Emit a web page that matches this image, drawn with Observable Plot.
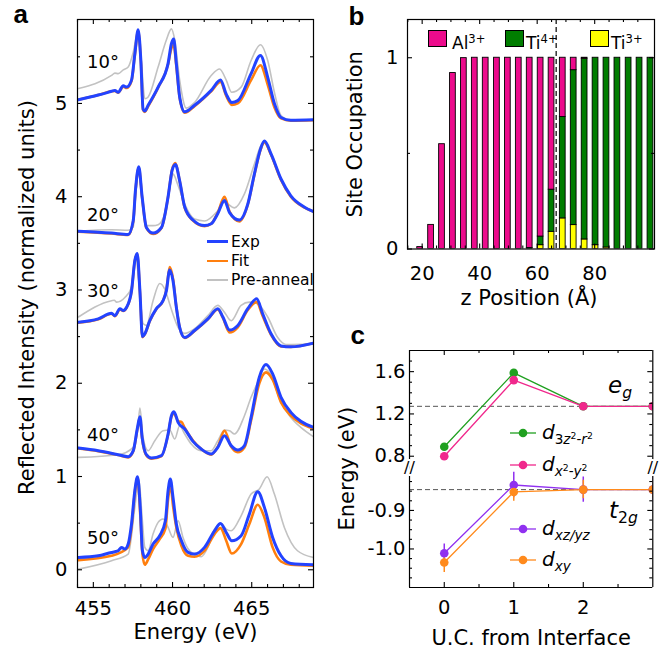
<!DOCTYPE html>
<html>
<head>
<meta charset="utf-8">
<script src="https://cdn.jsdelivr.net/npm/d3@7"></script>
<script src="https://cdn.jsdelivr.net/npm/@observablehq/plot@0.6"></script>
<style>
  body { margin: 0; background: #fff; }
  #fig { position: relative; width: 670px; height: 651px; overflow: hidden; font-family: "DejaVu Sans", sans-serif; color: #000; }
  #fig > svg { position: absolute; overflow: visible; }
  .lg { position: absolute; white-space: nowrap; }
  .lg sub { font-size: 0.68em; vertical-align: -0.35em; }
  .lg sup { font-size: 0.68em; vertical-align: 0.55em; }
</style>
</head>
<body>
<div id="fig"></div>
<script>
// ---------- Panel a: reflectivity spectra, [energy (eV), intensity] ----------
const angles = ["10°", "20°", "30°", "40°", "50°"];
const angleLabelY = [5.44, 3.80, 2.99, 1.44, 0.34];

const exp10 = [[454.06,5.04],[455.31,5.09],[456.15,5.13],[456.36,5.14],[456.57,5.12],[456.89,5.19],[457.10,5.175],[457.41,5.25],[457.62,5.53],[457.83,5.79],[458.00,5.46],[458.14,4.94],[458.25,4.92],[458.46,4.98],[459.09,5.175],[459.72,5.43],[459.93,5.64],[460.07,5.69],[460.24,5.43],[460.45,5.07],[460.77,4.91],[461.39,4.98],[462.44,5.14],[463.03,5.25],[463.39,5.10],[463.74,5.01],[464.12,5.03],[464.96,5.32],[465.55,5.515],[466.01,5.28],[466.43,5.00],[466.85,4.85],[467.47,4.82],[468.90,4.825]];
const fit10 = [[454.06,5.04],[455.31,5.09],[456.15,5.13],[456.36,5.135],[456.57,5.115],[456.89,5.18],[457.10,5.165],[457.41,5.24],[457.62,5.52],[457.83,5.78],[458.00,5.45],[458.14,4.93],[458.25,4.91],[458.46,4.97],[459.09,5.17],[459.72,5.42],[459.93,5.59],[460.07,5.63],[460.24,5.40],[460.45,5.06],[460.77,4.90],[461.39,4.97],[462.44,5.13],[463.03,5.23],[463.39,5.08],[463.74,4.985],[464.12,5.00],[464.96,5.25],[465.55,5.41],[466.01,5.20],[466.43,4.96],[466.85,4.84],[467.47,4.815],[468.90,4.82]];
const pre10 = [[454.06,5.16],[456.15,5.30],[456.36,5.325],[456.57,5.32],[456.89,5.36],[457.20,5.39],[457.52,5.55],[457.79,5.75],[458.04,5.43],[458.25,5.05],[458.46,5.07],[459.09,5.39],[459.61,5.68],[459.93,5.80],[460.14,5.68],[460.45,5.25],[460.87,4.95],[461.39,5.01],[462.44,5.30],[462.97,5.37],[463.39,5.25],[463.74,5.12],[464.33,5.175],[464.96,5.46],[465.55,5.63],[466.01,5.46],[466.43,5.12],[466.85,4.87],[467.47,4.82],[468.90,4.82]];

const exp20 = [[454.06,3.63],[456.15,3.61],[457.20,3.595],[457.52,3.745],[457.66,4.07],[457.87,4.32],[458.08,4.00],[458.35,3.67],[458.77,3.61],[459.30,3.67],[459.72,4.00],[459.97,4.28],[460.18,4.345],[460.45,4.17],[460.77,3.89],[461.29,3.75],[462.02,3.69],[462.44,3.71],[462.86,3.82],[463.28,3.96],[463.60,3.83],[464.22,3.75],[464.75,3.92],[465.17,4.245],[465.55,4.51],[465.80,4.596],[466.22,4.46],[466.85,4.19],[467.47,4.01],[468.31,3.89],[468.90,3.84]];
const fit20 = [[454.06,3.625],[456.15,3.605],[457.20,3.59],[457.52,3.74],[457.66,4.06],[457.87,4.31],[458.08,3.99],[458.35,3.665],[458.77,3.60],[459.30,3.665],[459.72,4.00],[459.97,4.29],[460.18,4.36],[460.45,4.17],[460.77,3.88],[461.29,3.745],[462.02,3.685],[462.44,3.71],[462.86,3.83],[463.28,4.00],[463.60,3.84],[464.22,3.735],[464.75,3.915],[465.17,4.235],[465.55,4.50],[465.80,4.585],[466.22,4.45],[466.85,4.18],[467.47,4.00],[468.31,3.885],[468.90,3.84]];
const pre20 = [[454.06,3.63],[456.15,3.645],[457.20,3.64],[457.52,3.675],[457.66,4.00],[457.87,4.25],[458.08,3.98],[458.35,3.69],[458.77,3.69],[459.09,3.70],[459.51,3.82],[459.93,4.18],[460.03,4.245],[460.35,4.12],[460.77,3.92],[461.39,3.76],[462.02,3.74],[462.86,3.85],[463.28,3.94],[463.91,3.88],[464.54,4.03],[465.17,4.35],[465.59,4.55],[465.80,4.575],[466.22,4.44],[466.85,4.19],[467.47,4.01],[468.31,3.89],[468.90,3.84]];

const exp30 = [[454.06,2.655],[455.31,2.69],[456.15,2.75],[456.36,2.725],[456.68,2.80],[456.89,2.78],[457.10,2.815],[457.41,2.99],[457.62,3.315],[457.77,3.39],[457.94,2.99],[458.10,2.50],[458.25,2.53],[458.56,2.67],[458.98,2.80],[459.40,2.885],[459.61,2.99],[459.82,3.215],[460.03,3.10],[460.24,2.815],[460.45,2.60],[460.77,2.49],[461.39,2.565],[462.23,2.69],[462.86,2.80],[463.18,2.71],[463.60,2.57],[464.12,2.62],[464.75,2.80],[465.31,2.905],[465.69,2.745],[466.22,2.53],[466.85,2.40],[467.47,2.39],[468.90,2.43]];
const fit30 = [[454.06,2.65],[455.31,2.685],[456.15,2.745],[456.36,2.72],[456.68,2.79],[456.89,2.775],[457.10,2.81],[457.41,2.985],[457.62,3.31],[457.77,3.385],[457.94,2.985],[458.10,2.495],[458.25,2.525],[458.56,2.665],[458.98,2.795],[459.40,2.885],[459.61,3.00],[459.82,3.245],[460.03,3.12],[460.24,2.82],[460.45,2.60],[460.77,2.485],[461.39,2.56],[462.23,2.685],[462.86,2.79],[463.18,2.70],[463.60,2.545],[464.12,2.60],[464.75,2.785],[465.31,2.87],[465.69,2.72],[466.22,2.52],[466.85,2.395],[467.47,2.39],[468.90,2.43]];
const pre30 = [[454.06,2.71],[456.15,2.885],[456.32,2.89],[456.47,2.87],[456.99,2.92],[457.41,3.03],[457.66,3.37],[457.94,2.96],[458.14,2.64],[458.35,2.62],[458.77,2.885],[459.19,3.07],[459.51,3.01],[459.82,2.85],[460.03,2.74],[460.35,2.60],[460.77,2.535],[461.39,2.585],[462.23,2.725],[462.86,2.835],[463.28,2.76],[463.70,2.67],[464.33,2.835],[464.85,2.87],[465.38,2.85],[466.01,2.71],[466.64,2.49],[467.16,2.415],[468.90,2.42]];

const exp40 = [[454.06,1.305],[455.31,1.277],[456.57,1.234],[457.20,1.212],[457.52,1.277],[457.79,1.527],[457.94,1.642],[458.08,1.42],[458.35,1.234],[458.67,1.198],[459.30,1.223],[459.72,1.456],[459.93,1.652],[460.09,1.695],[460.35,1.581],[460.77,1.509],[461.29,1.377],[461.81,1.295],[462.44,1.241],[462.86,1.313],[463.28,1.438],[463.70,1.331],[464.12,1.284],[464.54,1.331],[464.96,1.634],[465.48,2.064],[465.90,2.20],[466.32,2.10],[466.85,1.849],[467.47,1.688],[468.10,1.592],[468.90,1.527]];
const fit40 = [[454.06,1.30],[455.31,1.272],[456.57,1.23],[457.20,1.205],[457.52,1.27],[457.79,1.515],[457.94,1.63],[458.08,1.41],[458.35,1.225],[458.67,1.19],[459.30,1.22],[459.72,1.45],[459.93,1.64],[460.09,1.675],[460.35,1.595],[460.56,1.585],[460.77,1.52],[461.29,1.385],[461.81,1.295],[462.44,1.235],[462.86,1.32],[463.28,1.49],[463.70,1.32],[464.12,1.26],[464.54,1.31],[464.96,1.60],[465.48,2.00],[465.90,2.117],[466.32,2.04],[466.85,1.795],[467.47,1.652],[468.10,1.57],[468.90,1.515]];
const pre40 = [[454.06,1.205],[456.57,1.234],[457.52,1.313],[457.83,1.563],[457.94,1.735],[458.14,1.42],[458.46,1.277],[458.88,1.384],[459.40,1.491],[459.82,1.499],[460.14,1.402],[460.45,1.545],[460.77,1.456],[461.18,1.348],[461.81,1.277],[462.44,1.277],[462.86,1.384],[463.28,1.499],[463.60,1.491],[463.91,1.456],[464.54,1.652],[464.96,1.849],[465.38,2.01],[465.80,2.153],[466.11,2.117],[466.85,1.795],[467.47,1.634],[468.10,1.527],[468.90,1.427]];

const exp50 = [[454.06,0.132],[455.31,0.15],[456.15,0.186],[456.36,0.193],[456.57,0.204],[456.78,0.24],[456.99,0.222],[457.20,0.276],[457.41,0.49],[457.62,0.848],[457.79,0.998],[457.96,0.669],[458.10,0.204],[458.25,0.132],[458.46,0.168],[458.77,0.276],[459.19,0.365],[459.55,0.526],[459.72,0.848],[459.86,0.973],[460.03,0.776],[460.24,0.49],[460.56,0.311],[460.98,0.186],[461.39,0.168],[462.02,0.24],[462.65,0.418],[463.03,0.497],[463.39,0.40],[463.74,0.311],[464.33,0.365],[464.85,0.597],[465.38,0.837],[465.80,0.669],[466.32,0.347],[466.85,0.15],[467.47,0.068],[468.90,0.054]];
const fit50 = [[454.06,0.104],[456.15,0.15],[457.20,0.24],[457.41,0.454],[457.62,0.83],[457.79,0.99],[457.96,0.597],[458.10,0.168],[458.25,0.054],[458.46,0.111],[458.77,0.222],[459.19,0.329],[459.55,0.44],[459.72,0.758],[459.88,0.901],[460.03,0.687],[460.24,0.454],[460.56,0.258],[460.98,0.15],[461.39,0.14],[462.02,0.204],[462.65,0.382],[463.03,0.447],[463.39,0.311],[463.74,0.175],[464.33,0.276],[464.85,0.49],[465.38,0.697],[465.80,0.561],[466.32,0.24],[466.85,0.089],[467.47,0.054],[468.90,0.043]];
const pre50 = [[454.06,0.007],[456.15,0.097],[457.20,0.168],[457.62,0.669],[457.87,0.973],[458.08,0.561],[458.25,0.24],[458.46,0.204],[458.77,0.383],[459.09,0.508],[459.40,0.544],[459.72,0.454],[460.03,0.347],[460.35,0.526],[460.66,0.347],[461.08,0.204],[461.81,0.14],[462.23,0.24],[462.65,0.436],[463.07,0.497],[463.39,0.436],[463.70,0.418],[464.33,0.579],[464.96,0.812],[465.48,0.866],[465.97,0.998],[466.43,0.812],[467.06,0.454],[467.89,0.204],[468.90,0.132]];

const energyTicks = [455, 460, 465];
const intensityTicks = [0, 1, 2, 3, 4, 5];

// ---------- Panel b: site occupation vs z ----------
const zPos = [19.3, 23.1, 26.9, 30.7, 34.5, 38.3, 42.1, 46.0, 49.8, 53.6, 57.4, 61.2, 65.0, 68.9, 72.7, 76.5, 80.3, 84.1, 87.9, 91.8, 95.6, 99.4];
const al3 = [0.01, 0.126, 0.548, 0.92, 0.998, 1, 1, 1, 1, 1, 0.995, 0.935, 0.69, 0.31, 0.065, 0.005, 0, 0, 0, 0, 0, 0];
const ti4 = [0, 0, 0, 0, 0, 0, 0, 0, 0, 0, 0.005, 0.045, 0.22, 0.53, 0.81, 0.945, 0.98, 0.992, 1, 1, 1, 1];
const ti3 = [0, 0, 0, 0, 0, 0, 0, 0, 0, 0, 0, 0.02, 0.09, 0.16, 0.125, 0.05, 0.02, 0.008, 0, 0, 0, 0];
const interfaceZ = 66.6;
const zTicks = [20, 40, 60, 80];
const occTicks = [0, 1];

// ---------- Panel c: orbital energies vs unit cells from interface ----------
const ucFromInterface = [0, 1, 2, 3];
const d3z2 = [0.89, 1.588, 1.272, 1.272];
const dx2y2 = [0.80, 1.52, 1.272, 1.272];
const dxzyz = [-1.011, -0.834, -0.846, -0.846];
const dxy = [-1.035, -0.852, -0.846, -0.846];
const egErr = [0.03, 0.03, 0.03, 0.03];
const dxzyzErr = [0.024, 0.033, 0.033, 0.033];
const dxyErr = [0.026, 0.024, 0.024, 0.024];
const egBulk = 1.272, t2gBulk = -0.846;
const egTicks = [0.8, 1.2, 1.6];
const t2gTicks = [-1.0, -0.9];

// ---------- styling ----------
const FONT = "'DejaVu Sans', sans-serif";
const BOLD = "'Liberation Sans', sans-serif";
const BLUE = "#2343ff", ORANGE = "#ff7f0e", GRAY = "#c2c2c2";
const PINK = "#ec0b8c", GREEN = "#007d00", YELLOW = "#ffff00";
const C_GREEN = "#20a020", C_PINK = "#f0288c", C_PURPLE = "#9030f0", C_ORANGE = "#ff8a1c";
const TICK_FS = 19.5, TITLE_FS = 21;

const fig = document.getElementById("fig");
function put(svg, left, top) {
  svg.style.left = left + "px";
  svg.style.top = top + "px";
  fig.appendChild(svg);
}
function html(css, inner) {
  const el = document.createElement("div");
  el.className = "lg";
  el.style.cssText = css;
  el.innerHTML = inner;
  fig.appendChild(el);
  return el;
}
const range = (a, b, s) => d3.range(Math.round((b - a) / s) + 1).map(i => +(a + i * s).toFixed(4));
const fmt = d => String(d);
const fmt1 = d => d.toFixed(1);

// inward tick marks along chosen sides of a frame
function sideTicks({x = [], xMinor = [], y = [], yMinor = [], innerW, innerH, sides = "tblr", major = 5, minor = 3}) {
  const m = [], o = {stroke: "#000", strokeWidth: 1.1};
  for (const [vals, len] of [[x, major], [xMinor, minor]]) {
    if (sides.includes("b")) m.push(Plot.tickX(vals, {x: d => d, insetTop: innerH - len, ...o}));
    if (sides.includes("t")) m.push(Plot.tickX(vals, {x: d => d, insetBottom: innerH - len, ...o}));
  }
  for (const [vals, len] of [[y, major], [yMinor, minor]]) {
    if (sides.includes("l")) m.push(Plot.tickY(vals, {y: d => d, insetRight: innerW - len, ...o}));
    if (sides.includes("r")) m.push(Plot.tickY(vals, {y: d => d, insetLeft: innerW - len, ...o}));
  }
  return m;
}
const panelLetter = (t, dx, dy) => Plot.text([t], {text: d => d, frameAnchor: "top-left", textAnchor: "start", lineAnchor: "middle", dx, dy, fontSize: 26, fontWeight: "bold", fontFamily: BOLD});

// ===== Panel a =====
const spectra = angles.map((angle, i) => ({
  angle, labelY: angleLabelY[i],
  exp: [exp10, exp20, exp30, exp40, exp50][i],
  fit: [fit10, fit20, fit30, fit40, fit50][i],
  pre: [pre10, pre20, pre30, pre40, pre50][i]
}));
const rowsOf = kind => spectra.flatMap(s => s[kind].map(([E, I]) => ({E, I, angle: s.angle})));

{
  const W = 335, H = 651, mL = 77, mR = 22, mT = 19, mB = 64;
  const lineOpts = {x: "E", y: "I", z: "angle", curve: "monotone-x", strokeLinejoin: "round", clip: true};
  const plot = Plot.plot({
    width: W, height: H, marginLeft: mL, marginRight: mR, marginTop: mT, marginBottom: mB,
    x: {domain: [454, 468.9]},
    y: {domain: [-0.19, 5.9]},
    style: {fontFamily: FONT, fontSize: TICK_FS + "px", color: "#000", background: "transparent", overflow: "visible"},
    marks: [
      Plot.line(rowsOf("pre"), {...lineOpts, stroke: GRAY, strokeWidth: 1.6}),
      Plot.line(rowsOf("fit"), {...lineOpts, stroke: ORANGE, strokeWidth: 2.6}),
      Plot.line(rowsOf("exp"), {...lineOpts, stroke: BLUE, strokeWidth: 3}),
      Plot.text(spectra, {x: 454.6, y: "labelY", text: "angle", textAnchor: "start", fontSize: 18}),
      Plot.frame({stroke: "#000", strokeWidth: 1.2}),
      ...sideTicks({x: energyTicks, xMinor: range(454, 468, 1).filter(v => v % 5), y: intensityTicks, yMinor: range(0.5, 5.5, 1), innerW: W - mL - mR, innerH: H - mT - mB}),
      Plot.axisX({ticks: energyTicks, tickSize: 0, tickPadding: 14, label: null, tickFormat: fmt, fontSize: TICK_FS}),
      Plot.axisY({ticks: intensityTicks, tickSize: 0, tickPadding: 10, label: null, tickFormat: fmt, fontSize: TICK_FS}),
      Plot.text(["Energy (eV)"], {text: d => d, frameAnchor: "bottom", textAnchor: "middle", lineAnchor: "middle", dy: 45, fontSize: TITLE_FS}),
      Plot.text(["Reflected Intensity (normalized units)"], {text: d => d, frameAnchor: "left", textAnchor: "middle", lineAnchor: "middle", rotate: -90, dx: -50, dy: -6, fontSize: TITLE_FS}),
      panelLetter("a", -64, -5)
    ]
  });
  put(plot, 0, 0);
}
// legend a
[["Exp", BLUE, 3, 241.7], ["Fit", ORANGE, 2.6, 261], ["Pre-anneal", GRAY, 1.6, 280]].forEach(([t, c, w, y]) => {
  html(`left:207px;top:${y - w / 2}px;width:21px;height:${w}px;background:${c};`, "");
  html(`left:231px;top:${y - 10}px;line-height:20px;font-size:15.5px;`, t);
});

// ===== Panel b =====
const ions = ["Ti3+", "Ti4+", "Al3+"];
const occupancy = zPos.flatMap((z, i) => [
  {z, ion: "Ti3+", v: ti3[i]},
  {z, ion: "Ti4+", v: ti4[i]},
  {z, ion: "Al3+", v: al3[i]}
]).filter(d => d.v > 0);
{
  const W = 330, H = 320, mL = 67, mR = 16, mT = 19, mB = 71.5;
  const plot = Plot.plot({
    width: W, height: H, marginLeft: mL, marginRight: mR, marginTop: mT, marginBottom: mB,
    x: {domain: [14.9, 100.8]},
    y: {domain: [0, 1.2]},
    color: {domain: ions, range: [YELLOW, GREEN, PINK]},
    style: {fontFamily: FONT, fontSize: TICK_FS + "px", color: "#000", background: "transparent", overflow: "visible"},
    marks: [
      Plot.rectY(occupancy, {x1: d => d.z - 1.0, x2: d => d.z + 1.0, y: "v", fill: "ion", stroke: "#000", strokeWidth: 0.9, clip: true}),
      Plot.ruleX([interfaceZ], {stroke: "#000", strokeWidth: 1.2, strokeDasharray: "5,3"}),
      Plot.frame({stroke: "#000", strokeWidth: 1.2}),
      ...sideTicks({x: zTicks, xMinor: range(15, 100, 5).filter(v => v % 20), y: occTicks, yMinor: [0.5], innerW: W - mL - mR, innerH: H - mT - mB}),
      Plot.axisX({ticks: zTicks, tickSize: 0, tickPadding: 17, label: null, tickFormat: fmt, fontSize: TICK_FS}),
      Plot.axisY({ticks: occTicks, tickSize: 0, tickPadding: 9, label: null, tickFormat: fmt, fontSize: TICK_FS}),
      Plot.text(["z Position (Å)"], {text: d => d, frameAnchor: "bottom", textAnchor: "middle", lineAnchor: "middle", dy: 49, dx: -2, fontSize: TITLE_FS}),
      Plot.text(["Site Occupation"], {text: d => d, frameAnchor: "left", textAnchor: "middle", lineAnchor: "middle", rotate: -90, dx: -52, fontSize: TITLE_FS}),
      panelLetter("b", -59, -3)
    ]
  });
  put(plot, 340, 0);
}
// legend b
[["Al", "3+", PINK, 428, 452], ["Ti", "4+", GREEN, 505, 526], ["Ti", "3+", YELLOW, 590, 611]].forEach(([t, s, c, x, tx]) => {
  html(`left:${x}px;top:30px;width:19px;height:17px;background:${c};border:1px solid #000;box-sizing:border-box;`, "");
  html(`left:${tx}px;top:28px;line-height:22px;font-size:17px;`, `${t}<sup>${s}</sup>`);
});

// ===== Panel c: broken energy axis drawn as two stacked plots =====
const orbitals = [
  {name: "d3z2", values: d3z2, err: egErr, color: C_GREEN},
  {name: "dx2y2", values: dx2y2, err: egErr, color: C_PINK},
  {name: "dxzyz", values: dxzyz, err: dxzyzErr, color: C_PURPLE},
  {name: "dxy", values: dxy, err: dxyErr, color: C_ORANGE}
];
const levels = orbitals.flatMap(o => ucFromInterface.map((u, i) => ({uc: u, E: o.values[i], err: o.err[i], orbital: o.name})));
const egLevels = levels.filter(d => d.E > 0), t2gLevels = levels.filter(d => d.E < 0);
const cW = 330, cL = 69, cR = 17.7, cInnerW = cW - cL - cR;
const cColor = {domain: orbitals.map(o => o.name), range: orbitals.map(o => o.color)};
const cStyle = {fontFamily: FONT, fontSize: TICK_FS + "px", color: "#000", background: "transparent", overflow: "visible"};
const levelMarks = data => [
  Plot.ruleX(data, {x: "uc", y1: d => d.E - d.err, y2: d => d.E + d.err, stroke: "orbital", strokeWidth: 1.5, clip: true}),
  Plot.line(data, {x: "uc", y: "E", z: "orbital", stroke: "orbital", strokeWidth: 1.3, clip: true}),
  Plot.dot(data, {x: "uc", y: "E", fill: "orbital", r: 4.3, clip: true})
];
{
  // upper segment (eg)
  const H = 146.3, mT = 30;
  const plot = Plot.plot({
    width: cW, height: H, marginLeft: cL, marginRight: cR, marginTop: mT, marginBottom: 0,
    x: {domain: [-0.5, 3], axis: null},
    y: {domain: [0.7, 1.8]},
    color: cColor,
    style: cStyle,
    marks: [
      Plot.ruleY([egBulk], {stroke: "#555", strokeWidth: 1, strokeDasharray: "5,3"}),
      ...levelMarks(egLevels),
      Plot.ruleX([-0.5, 3], {stroke: "#000", strokeWidth: 1.2}),
      Plot.ruleY([1.8], {stroke: "#000", strokeWidth: 1.2}),
      ...sideTicks({x: [0, 1, 2], xMinor: [0.5, 1.5, 2.5], y: egTicks, yMinor: [0.9, 1.0, 1.1, 1.3, 1.4, 1.5, 1.7], innerW: cInnerW, innerH: H - mT, sides: "tlr"}),
      Plot.axisY({ticks: egTicks, tickSize: 0, tickPadding: 4, label: null, tickFormat: fmt1, fontSize: TICK_FS}),
      Plot.text(["Energy (eV)"], {text: d => d, frameAnchor: "left", textAnchor: "middle", lineAnchor: "middle", rotate: -90, dx: -62, dy: 60, fontSize: TITLE_FS}),
      panelLetter("c", -59, -15)
    ]
  });
  put(plot, 340, 320);
}
{
  // lower segment (t2g)
  const H = 185.7, mB = 64.7;
  const plot = Plot.plot({
    width: cW, height: H, marginLeft: cL, marginRight: cR, marginTop: 0, marginBottom: mB,
    x: {domain: [-0.5, 3]},
    y: {domain: [-1.1, -0.786]},
    color: cColor,
    style: cStyle,
    marks: [
      Plot.ruleY([t2gBulk], {stroke: "#555", strokeWidth: 1, strokeDasharray: "5,3"}),
      ...levelMarks(t2gLevels),
      Plot.ruleX([-0.5, 3], {stroke: "#000", strokeWidth: 1.2}),
      Plot.ruleY([-1.1], {stroke: "#000", strokeWidth: 1.2}),
      ...sideTicks({x: [0, 1, 2], xMinor: [0.5, 1.5, 2.5], y: t2gTicks, yMinor: range(-1.075, -0.8, 0.025).filter(v => !t2gTicks.some(t => Math.abs(t - v) < 1e-6)), innerW: cInnerW, innerH: H - mB, sides: "blr"}),
      // axis break marks
      Plot.text([-0.5, 3], {x: d => d, y: -0.786, text: () => "//", fontSize: 16, dy: 1, stroke: "#fff", strokeWidth: 4, paintOrder: "stroke", fill: "#000"}),
      Plot.axisX({ticks: [0, 1, 2], tickSize: 0, tickPadding: 13, label: null, tickFormat: fmt, fontSize: TICK_FS}),
      Plot.axisY({ticks: t2gTicks, tickSize: 0, tickPadding: 4, label: null, tickFormat: fmt1, fontSize: TICK_FS}),
      Plot.text(["U.C. from Interface"], {text: d => d, frameAnchor: "bottom", textAnchor: "middle", lineAnchor: "middle", dy: 51, fontSize: TITLE_FS})
    ]
  });
  put(plot, 340, 466.3);
}
// legend c
[
  [C_GREEN, 433.3, "<i>d</i><sub>3<i>z</i><sup>2</sup>-<i>r</i><sup>2</sup></sub>"],
  [C_PINK, 465, "<i>d</i><sub><i>x</i><sup>2</sup>-<i>y</i><sup>2</sup></sub>"],
  [C_PURPLE, 529, "<i>d</i><sub><i>xz/yz</i></sub>"],
  [C_ORANGE, 560, "<i>d</i><sub><i>xy</i></sub>"]
].forEach(([c, y, label]) => {
  html(`left:510px;top:${y - 6}px;line-height:0;`,
    `<svg width="26" height="12"><line x1="0" y1="6" x2="26" y2="6" stroke="${c}" stroke-width="1.3"/><circle cx="13" cy="6" r="4.3" fill="${c}"/></svg>`);
  html(`left:542px;top:${y - 13}px;line-height:24px;font-size:20px;`, label);
});
html(`left:608px;top:372px;line-height:26px;font-size:23px;`, "<i>e</i><sub><i>g</i></sub>");
html(`left:609px;top:497px;line-height:26px;font-size:23px;`, "<i>t</i><sub>2<i>g</i></sub>");
</script>
</body>
</html>
